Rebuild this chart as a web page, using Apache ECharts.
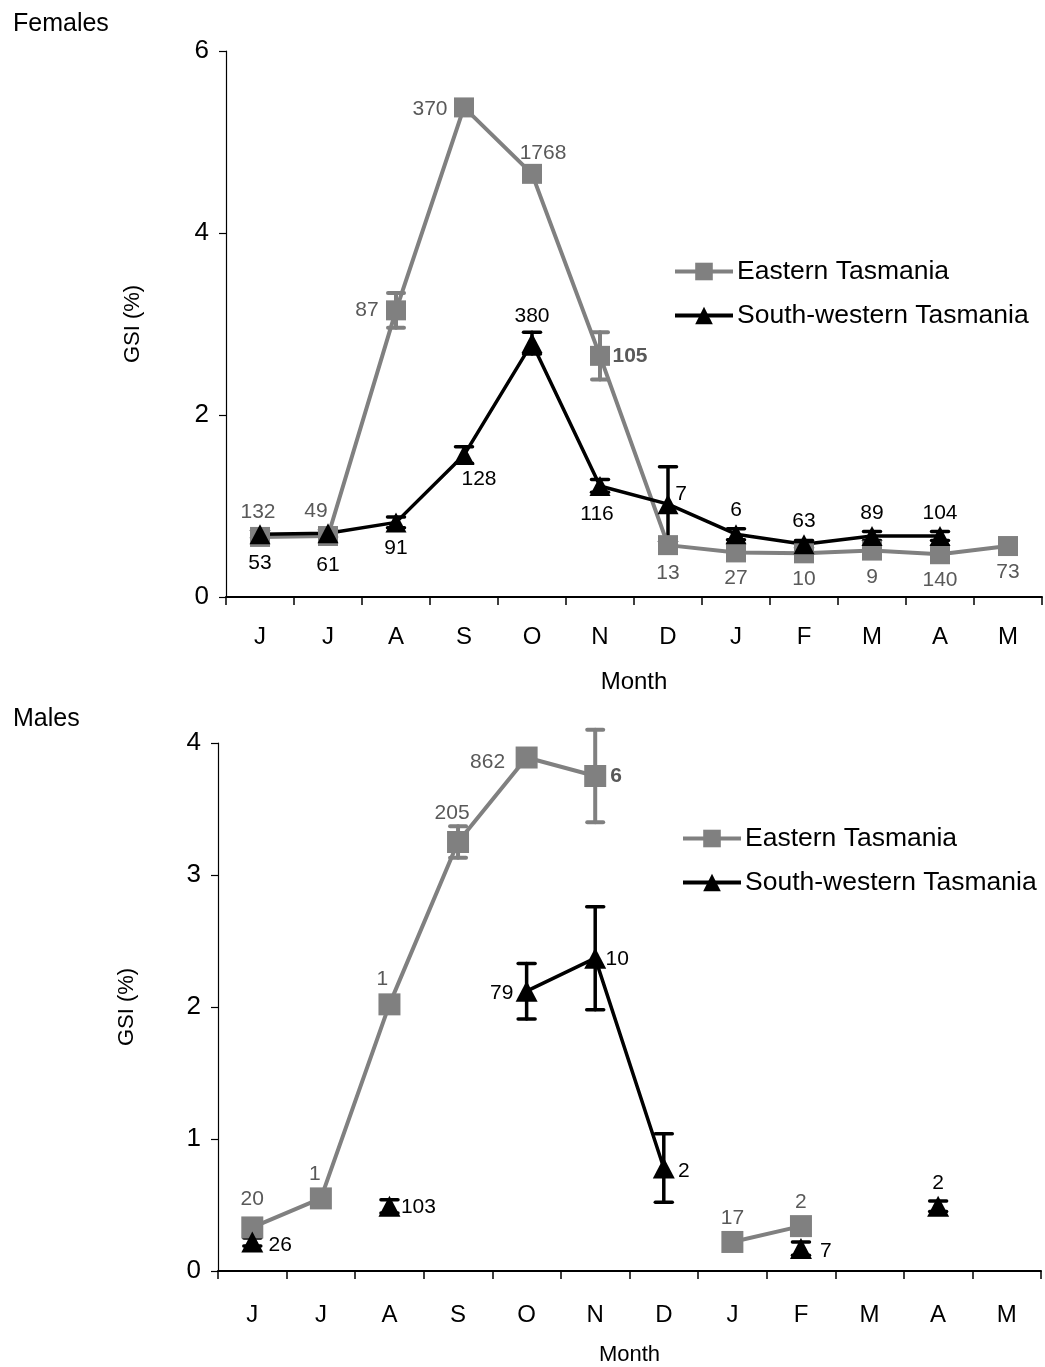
<!DOCTYPE html>
<html>
<head>
<meta charset="utf-8">
<script src="https://cdn.jsdelivr.net/npm/echarts@6/dist/echarts.min.js"></script>
<style>
  html, body { margin: 0; padding: 0; background: #fff; }
  #chart { width: 1045px; height: 1367px; }
</style>
</head>
<body>
<div id="chart"></div>
<script>
// Month categories (June to May)
const months = ['J', 'J', 'A', 'S', 'O', 'N', 'D', 'J', 'F', 'M', 'A', 'M'];
const seriesNames = ['Eastern Tasmania', 'South-western Tasmania'];

// Females: mean GSI (%), standard error, sample size
const femEast   = [0.66, 0.67, 3.15, 5.38, 4.65, 2.65, 0.57, 0.49, 0.48, 0.51, 0.47, 0.56];
const femEastSE = [0.03, 0.03, 0.19, 0.08, 0.04, 0.26, 0.03, 0.03, 0.03, 0.03, 0.03, 0.03];
const femEastN  = [132, 49, 87, 370, 1768, 105, 13, 27, 10, 9, 140, 73];

const femSW   = [0.69, 0.70, 0.82, 1.56, 2.79, 1.22, 1.02, 0.69, 0.58, 0.67, 0.67, null];
const femSWSE = [0.04, 0.04, 0.06, 0.09, 0.12, 0.07, 0.41, 0.06, 0.04, 0.05, 0.05, null];
const femSWN  = [53, 61, 91, 128, 380, 116, 7, 6, 63, 89, 104, null];

// Males: mean GSI (%), standard error, sample size
const maleEast   = [0.33, 0.55, 2.02, 3.25, 3.89, 3.75, null, 0.22, 0.34, null, null, null];
const maleEastSE = [0.04, null, null, 0.12, 0.04, 0.35, null, 0.03, 0.03, null, null, null];
const maleEastN  = [20, 1, 1, 205, 862, 6, null, 17, 2, null, null, null];

const maleSW   = [0.22, null, 0.49, null, 2.12, 2.37, 0.78, null, 0.17, null, 0.49, null];
const maleSWSE = [0.03, null, 0.05, null, 0.21, 0.39, 0.26, null, 0.05, null, 0.04, null];
const maleSWN  = [26, null, 103, null, 79, 10, 2, null, 7, null, 2, null];

// Sample-size label placement: [dx, dy] from the marker centre
const femEastLbl = [[-2,-25],[-12,-25],[-29,0],[-34,2],[11,-21],[30,0],[0,28],[0,26],[0,26],[0,27],[0,26],[0,26]];
const femSWLbl   = [[0,29],[0,32],[0,26],[15,24],[0,-27],[-3,28],[13,-10],[0,-24],[0,-23],[0,-23],[0,-23],null];
const maleEastLbl = [[0,-28],[-6,-24],[-7,-25],[-6,-29],[-39,5],[21,0],null,[0,-24],[0,-24],null,null,null];
const maleSWLbl   = [[28,3],null,[29,1],null,[-25,2],[22,1],[20,3],null,[25,3],null,[0,-23],null];
// Labels drawn in bold
const femEastBold = [5];
const maleEastBold = [5];

const FONT = 'Liberation Sans, Arial, sans-serif';
const GREY = '#808080';
const GREY_TEXT = '#595959';
const BLACK = '#000000';

function pointData(vals, ns, offs, color, boldIdx) {
  return vals.map((v, i) => {
    const o = offs[i];
    return {
      value: v,
      label: {
        show: v != null && ns[i] != null,
        formatter: ns[i] == null ? '' : String(ns[i]),
        position: 'inside',
        offset: o || [0, 0],
        color: color,
        fontSize: 21,
        fontFamily: FONT,
        fontWeight: (boldIdx || []).indexOf(i) >= 0 ? 'bold' : 'normal',
        textBorderWidth: 0
      }
    };
  });
}

function lineSeries(name, gi, vals, ns, offs, cfg) {
  return {
    name: name,
    type: 'line',
    xAxisIndex: gi,
    yAxisIndex: gi,
    data: pointData(vals, ns, offs, cfg.textColor, cfg.bold),
    connectNulls: false,
    symbol: cfg.symbol,
    symbolSize: cfg.symbolSize,
    z: 3,
    lineStyle: { color: cfg.color, width: cfg.lineWidth },
    itemStyle: { color: cfg.color },
    emphasis: { disabled: true },
    animation: false
  };
}

function errorSeries(gi, vals, se, color, width, capW) {
  const data = [];
  vals.forEach((v, i) => {
    if (v != null && se[i] != null) data.push([i, v - se[i], v + se[i]]);
  });
  return {
    type: 'custom',
    xAxisIndex: gi,
    yAxisIndex: gi,
    z: 2,
    silent: true,
    animation: false,
    data: data,
    renderItem: function (params, api) {
      const x = api.value(0);
      const lo = api.coord([x, api.value(1)]);
      const hi = api.coord([x, api.value(2)]);
      const hw = capW / 2;
      const st = { stroke: color, lineWidth: width, lineCap: 'round' };
      return {
        type: 'group',
        children: [
          { type: 'line', shape: { x1: lo[0], y1: lo[1], x2: hi[0], y2: hi[1] }, style: st },
          { type: 'line', shape: { x1: lo[0] - hw, y1: lo[1], x2: lo[0] + hw, y2: lo[1] }, style: st },
          { type: 'line', shape: { x1: hi[0] - hw, y1: hi[1], x2: hi[0] + hw, y2: hi[1] }, style: st }
        ]
      };
    }
  };
}

const eastCfg = { color: GREY, textColor: GREY_TEXT, symbol: 'rect', symbolSize: 20, lineWidth: 4 };
const swCfg   = { color: BLACK, textColor: BLACK, symbol: 'triangle', symbolSize: [21, 20], lineWidth: 3.5 };

function xAxisCfg(gi, labelMargin, nameGap, nameSize) {
  return {
    type: 'category',
    gridIndex: gi,
    data: months,
    boundaryGap: true,
    name: 'Month',
    nameLocation: 'middle',
    nameGap: nameGap,
    nameTextStyle: { fontSize: nameSize, fontFamily: FONT, color: BLACK },
    axisLine: { lineStyle: { color: BLACK, width: 2 } },
    axisTick: { show: true, length: 8, lineStyle: { color: BLACK, width: 1.5 } },
    axisLabel: { fontSize: 24, fontFamily: FONT, color: BLACK, margin: labelMargin, interval: 0 },
    splitLine: { show: false }
  };
}

function yAxisCfg(gi, max, interval, nameGap) {
  return {
    type: 'value',
    gridIndex: gi,
    min: 0,
    max: max,
    interval: interval,
    name: 'GSI (%)',
    nameLocation: 'middle',
    nameGap: nameGap,
    nameTextStyle: { fontSize: 22, fontFamily: FONT, color: BLACK },
    axisLine: { show: true, lineStyle: { color: BLACK, width: 1.2 } },
    axisTick: { show: true, length: 7, lineStyle: { color: BLACK, width: 1.2 } },
    axisLabel: { fontSize: 26, fontFamily: FONT, color: BLACK, margin: 17 },
    splitLine: { show: false }
  };
}

function legendCfg(left, top) {
  return {
    data: [
      { name: seriesNames[0], lineStyle: { width: 4 } },
      { name: seriesNames[1], lineStyle: { width: 4 } }
    ],
    orient: 'vertical',
    left: left,
    top: top,
    itemWidth: 58,
    itemHeight: 22,
    itemGap: 17,
    selectedMode: false,
    textStyle: { fontSize: 26.5, fontFamily: FONT, color: BLACK, padding: [0, 0, 0, -1] }
  };
}

const chart = echarts.init(document.getElementById('chart'), null, { renderer: 'canvas' });
chart.setOption({
  backgroundColor: '#ffffff',
  animation: false,
  title: [
    { text: 'Females', left: 8, top: 7, textStyle: { fontSize: 25, fontWeight: 'normal', fontFamily: FONT, color: BLACK } },
    { text: 'Males', left: 8, top: 702, textStyle: { fontSize: 25, fontWeight: 'normal', fontFamily: FONT, color: BLACK } }
  ],
  legend: [legendCfg(668, 253), legendCfg(676, 820)],
  grid: [
    { left: 226, right: 3, top: 51, height: 546 },
    { left: 218, right: 4, top: 743, height: 528 }
  ],
  xAxis: [xAxisCfg(0, 28, 73, 24), xAxisCfg(1, 32, 73, 22)],
  yAxis: [yAxisCfg(0, 6, 2, 82), yAxisCfg(1, 4, 1, 80)],
  series: [
    errorSeries(0, femEast, femEastSE, GREY, 4, 16),
    errorSeries(0, femSW, femSWSE, BLACK, 3.5, 17),
    lineSeries(seriesNames[0], 0, femEast, femEastN, femEastLbl, Object.assign({ bold: femEastBold }, eastCfg)),
    lineSeries(seriesNames[1], 0, femSW, femSWN, femSWLbl, swCfg),
    errorSeries(1, maleEast, maleEastSE, GREY, 4, 16),
    errorSeries(1, maleSW, maleSWSE, BLACK, 3.5, 17),
    lineSeries(seriesNames[0], 1, maleEast, maleEastN, maleEastLbl, Object.assign({ bold: maleEastBold }, eastCfg, { symbolSize: 22 })),
    lineSeries(seriesNames[1], 1, maleSW, maleSWN, maleSWLbl, Object.assign({}, swCfg, { symbolSize: [22, 21] }))
  ]
});
</script>
</body>
</html>
